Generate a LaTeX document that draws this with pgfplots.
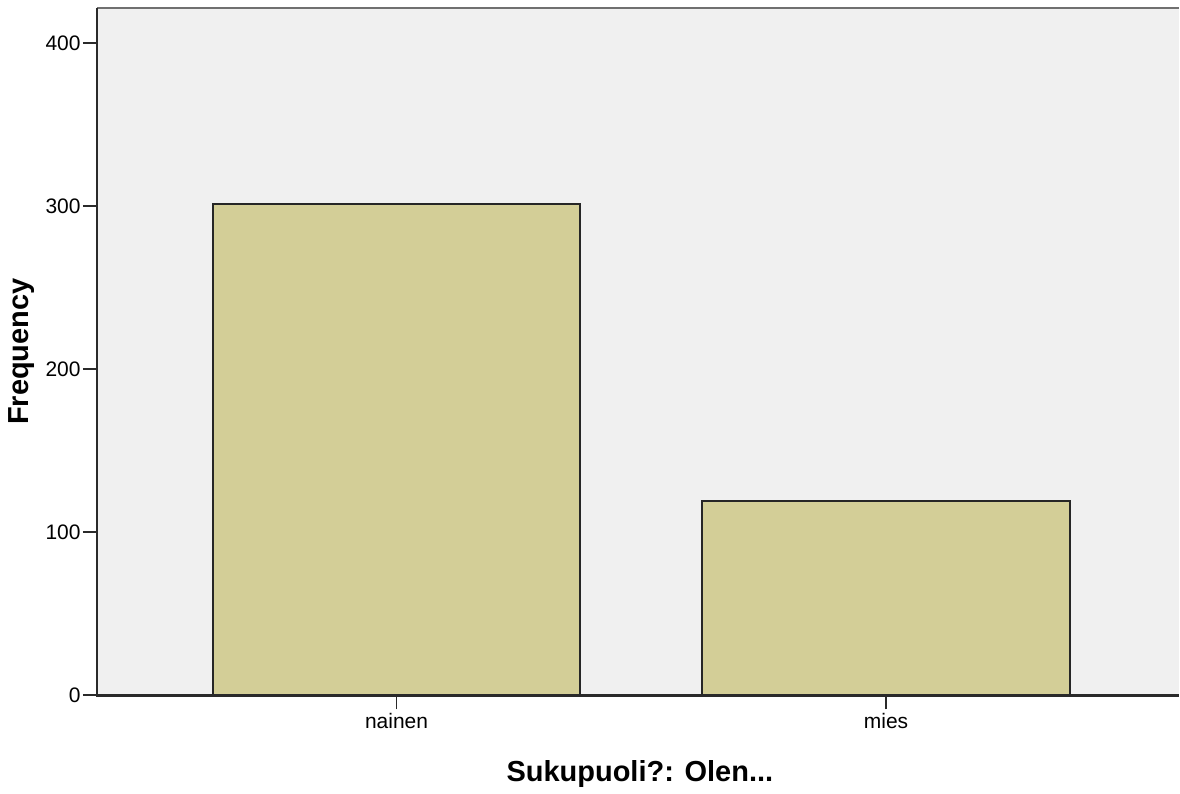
\documentclass[border=0pt]{standalone}
\usepackage{fontspec}
\setmainfont{Liberation Sans}
\usepackage{pgfplots}
\pgfplotsset{compat=1.18}

\definecolor{plotbg}{HTML}{F0F0F0}
\definecolor{barfill}{HTML}{D3CE97}
\definecolor{axisdark}{HTML}{2A2A2A}
\definecolor{framegray}{HTML}{707070}

\begin{document}
\begin{tikzpicture}
	% frame of the whole picture: 1180 x 792 px at 0.5pt per px
	\path (-48.5pt,-48pt) rectangle (541.5pt,348pt);
	
	\begin{axis}[
		scale only axis,
		width=541.5pt, height=344pt,
		xmin=-0.6122, xmax=1.598,
		ymin=0, ymax=421.4,
		axis line style={draw=none},
		axis background/.style={fill=plotbg},
		xtick=data,
		xticklabels={nainen,mies},
		ytick={0,100,200,300,400},
		xtick pos=left, ytick pos=left,
		tick align=outside,
		major tick length=7pt,
		tick style={axisdark, line width=0.9pt},
		/pgf/number format/assume math mode=true,
		tick label style={font=\fontsize{10.5}{12}\selectfont, inner sep=1pt},
		xticklabel style={yshift=-1pt},
		xlabel={Sukupuoli?: Olen...},
		ylabel={Frequency},
		every axis x label/.style={at={(rel axis cs:0.5,0)}, yshift=-39.25pt, xshift=1pt, anchor=center,
			font=\fontsize{14.5}{17}\selectfont\bfseries},
		every axis y label/.style={at={(rel axis cs:0,0.5)}, xshift=-37.75pt, rotate=90, anchor=center,
			font=\fontsize{14.5}{17}\selectfont\bfseries},
		clip=false,
		]
		
		%--- bars ---
		\addplot[ybar, bar width=184pt, fill=barfill, draw=black!85, line width=0.9pt]
		coordinates {(0,301) (1,119)};
		
		%--- frame lines: left and bottom dark, top grey ---
		\draw[framegray, line width=1pt] (rel axis cs:0,1) -- (rel axis cs:1,1);
		\draw[axisdark, line width=1.2pt] (rel axis cs:0,1) -- (rel axis cs:0,0) -- (rel axis cs:1,0);
		
	\end{axis}
\end{tikzpicture}
\end{document}
